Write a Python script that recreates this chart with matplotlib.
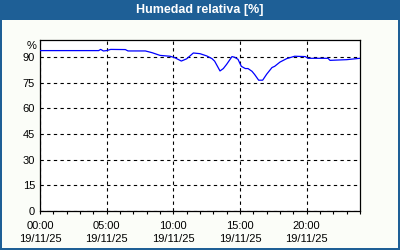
import matplotlib
matplotlib.use("Agg")
import matplotlib.pyplot as plt
from matplotlib.patches import Rectangle

plt.rcParams["font.family"] = ["Liberation Sans", "DejaVu Sans"]

TITLE = "Humedad relativa [%]"
DATE = "19/11/25"

# hours since 00:00 and relative humidity (%)
hours = [0.0, 4.4, 4.55, 4.75, 5.0, 5.3, 6.4, 6.6, 7.9, 8.4, 9.0, 9.75, 10.1,
         10.6, 11.0, 11.5, 12.0, 12.5, 12.9, 13.1, 13.5, 13.75, 14.0, 14.4,
         14.6, 14.85, 15.1, 15.4, 15.6, 15.9, 16.1, 16.4, 16.7, 17.0, 17.4,
         17.6, 18.0, 18.5, 19.1, 19.9, 20.1, 21.6, 21.75, 23.0, 24.0]
humidity = [93.8, 93.8, 94.5, 93.6, 93.8, 94.5, 94.4, 93.6, 93.6, 92.6, 91.0,
            90.5, 89.7, 87.7, 89.0, 92.4, 92.0, 90.7, 89.1, 87.6, 81.9, 83.3,
            85.8, 90.3, 89.9, 88.7, 84.6, 83.3, 83.3, 81.7, 79.8, 76.5, 76.5,
            80.0, 83.9, 84.6, 87.1, 89.1, 90.5, 90.3, 89.3, 89.3, 88.1, 88.5,
            89.3]

x_major = [0, 5, 10, 15, 20]
x_labels = [f"{h:02d}:00\n{DATE}" for h in x_major]
y_major = [0, 15, 30, 45, 60, 75, 90]

FRAME = "#1e5f96"
BG = "#fbfdf8"

fig = plt.figure(figsize=(4, 2.5), dpi=100, facecolor=BG)

# title bar and blue frame
fig.patches.append(Rectangle((0, 230 / 250), 1, 20 / 250, transform=fig.transFigure,
                             facecolor=FRAME, edgecolor="none", zorder=0))
fig.patches.append(Rectangle((0, 0), 2 / 400, 1, transform=fig.transFigure,
                             facecolor=FRAME, edgecolor="none", zorder=0))
fig.patches.append(Rectangle((398 / 400, 0), 2 / 400, 1, transform=fig.transFigure,
                             facecolor=FRAME, edgecolor="none", zorder=0))
fig.patches.append(Rectangle((0, 0), 1, 2 / 250, transform=fig.transFigure,
                             facecolor=FRAME, edgecolor="none", zorder=0))
fig.text(0.5, 240 / 250, TITLE, color="white", fontsize=9, fontweight="bold",
         ha="center", va="center")

ax = fig.add_axes([40 / 400, 39 / 250, 320 / 400, 171 / 250])
ax.set_facecolor("white")
ax.plot(hours, humidity, color="#0000ff", lw=0.9, zorder=3)

ax.set_xlim(0, 24)
ax.set_ylim(0, 100)
ax.set_xticks(x_major)
ax.set_xticklabels(x_labels, fontsize=8, linespacing=1.3)
ax.set_xticks(range(0, 25), minor=True)
ax.set_yticks(y_major)
ax.set_yticklabels([str(v) for v in y_major], fontsize=8)
ax.tick_params(axis="x", which="both", direction="out", length=2.5, width=0.8, pad=5)
ax.tick_params(axis="y", length=0, pad=3.5)
ax.text(-0.011, 96.6, "%", transform=ax.get_yaxis_transform(), fontsize=8,
        ha="right", va="center")

ax.grid(True, which="major", color="black", linestyle=(0, (3, 3)), linewidth=0.8)
for s in ax.spines.values():
    s.set_linewidth(0.9)

fig.savefig("out.png", dpi=100, facecolor=BG)
